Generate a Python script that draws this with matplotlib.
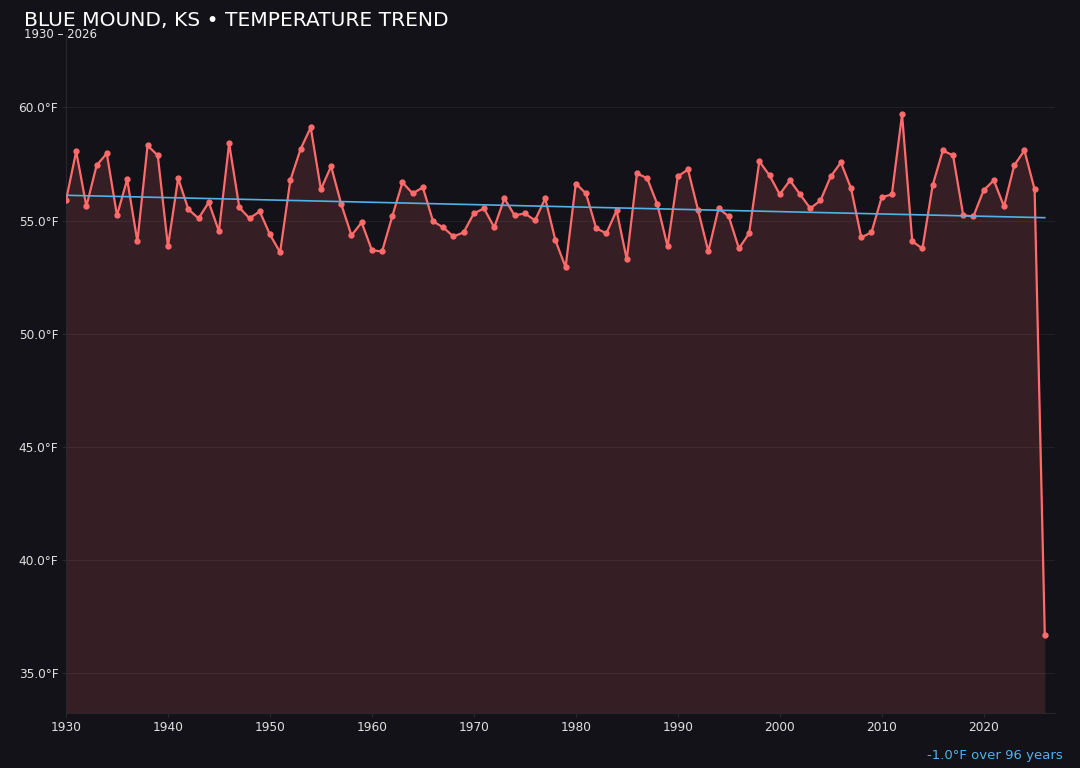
import numpy as np
import matplotlib
matplotlib.use('Agg')
import matplotlib.pyplot as plt

# annual mean temperature, Blue Mound KS
years = list(range(1930, 2027))
temps = [
    55.89, 58.06, 55.63, 57.44, 57.97, 55.23, 56.82, 54.08, 58.32, 57.88,
    53.86, 56.87, 55.50, 55.10, 55.81, 54.53, 58.41, 55.58, 55.10, 55.41,
    54.39, 53.60, 56.78, 58.15, 59.12, 56.38, 57.40, 55.72, 54.35, 54.92,
    53.69, 53.64, 55.19, 56.69, 56.20, 56.47, 54.97, 54.70, 54.30, 54.48,
    55.32, 55.54, 54.70, 55.98, 55.23, 55.32, 55.01, 55.98, 54.13, 52.94,
    56.64, 56.20, 54.66, 54.44, 55.45, 53.29, 57.09, 56.87, 55.72, 53.86,
    56.95, 57.26, 55.45, 53.64, 55.54, 55.19, 53.77, 54.44, 57.62, 57.00,
    56.16, 56.78, 56.16, 55.54, 55.89, 56.95, 57.57, 56.42, 54.26, 54.48,
    56.03, 56.16, 59.69, 54.08, 53.77, 56.56, 58.10, 57.88, 55.23, 55.19,
    56.34, 56.78, 55.63, 57.44, 58.10, 56.38, 36.69,
]
trend_ends = [56.12, 55.13]  # trend line at 1930 and 2026

bg = '#131218'
line_col = '#ff6b6b'
trend_col = '#4fb3e8'

x = np.array(years)
y = np.array(temps)

fig = plt.figure(figsize=(10.8, 7.68), dpi=100, facecolor=bg)
ax = fig.add_axes([66 / 1080, 1 - 713 / 768, (1055 - 66) / 1080, (713 - 35) / 768])
ax.set_facecolor(bg)

ymin = 33.25
ax.fill_between(x, y, ymin, color=line_col, alpha=0.15, lw=0, zorder=1)
ax.plot(x, y, color=line_col, lw=1.6, marker='o', ms=3.5, zorder=3)
ax.plot([years[0], years[-1]], trend_ends, color=trend_col, lw=1.2, zorder=4)

ax.set_xlim(1930, 2027)
ax.set_ylim(ymin, 63.2)
ax.set_yticks([35, 40, 45, 50, 55, 60])
ax.set_yticklabels([f'{v:.1f}°F' for v in [35, 40, 45, 50, 55, 60]])
ax.set_xticks(range(1930, 2021, 10))

ax.grid(axis='y', color='#221f27', lw=0.8)
ax.set_axisbelow(True)
for side in ['top', 'right']:
    ax.spines[side].set_visible(False)
for side in ['left', 'bottom']:
    ax.spines[side].set_color('#28272e')
ax.tick_params(colors='#28272e', labelcolor='#e0e0e0', labelsize=8.7, length=3, pad=2.5)

fig.text(24 / 1080, 1 - 21 / 768, 'BLUE MOUND, KS • TEMPERATURE TREND',
         color='white', fontsize=14.6, va='center', ha='left')
fig.text(24 / 1080, 1 - 35 / 768, '1930 – 2026', color='#e8e8e8',
         fontsize=8.5, va='center', ha='left')
change = trend_ends[1] - trend_ends[0]
fig.text(1063 / 1080, 1 - 756 / 768, f'{change:.1f}°F over {years[-1] - years[0]} years',
         color=trend_col, fontsize=9.5, va='center', ha='right')

fig.savefig('out.png', dpi=100, facecolor=bg)
